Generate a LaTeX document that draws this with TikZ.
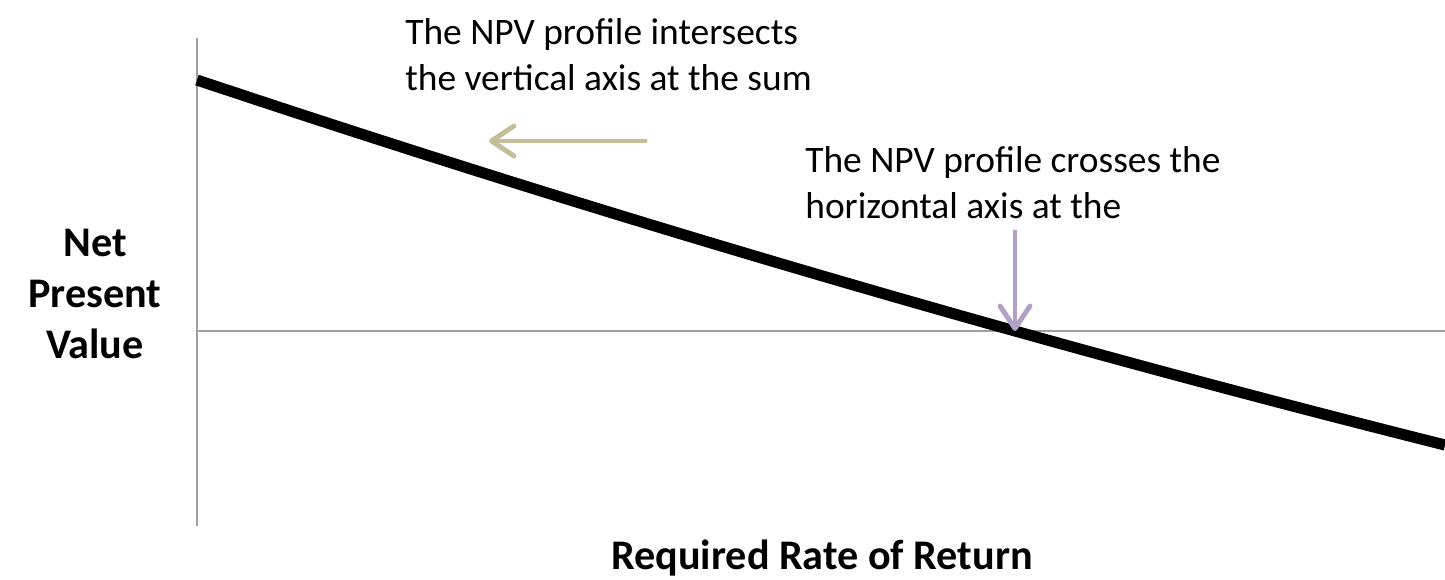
\documentclass[tikz,border=0pt]{standalone}
\usepackage{fontspec}
\setmainfont{Carlito}
\usetikzlibrary{arrows.meta}
\definecolor{tan}{RGB}{196,189,151}
\definecolor{lilac}{RGB}{178,161,199}
\definecolor{axisgray}{RGB}{160,160,160}

\begin{document}
\begin{tikzpicture}[x=0.02cm, y=-0.02cm,
    axisline/.style={axisgray, line width=1.1pt},
    axislabel/.style={inner sep=0, align=center, font=\fontsize{24}{29}\selectfont\bfseries},
    note/.style={anchor=north west, inner sep=0, align=left, font=\fontsize{21.3}{26}\selectfont},
    pointer/.style={-{Straight Barb[length=0.45cm, width=0.6cm, round]}, line width=2.8pt}]

    \useasboundingbox (0,0) rectangle (1445,579);

    % axes
    \coordinate (origin) at (197,331);
    \coordinate (ytop) at (197,38);
    \coordinate (ybot) at (197,526);
    \coordinate (xend) at (1445,331);
    \draw[axisline] (ytop) -- (ybot);
    \draw[axisline] (origin) -- (xend);

    % npv profile, bends up slightly as the rate grows
    \coordinate (start) at (197,80);
    \coordinate (irr) at (1015,331);
    \coordinate (stop) at (1445,445);
    \draw[black, line width=6.3pt] (start) .. controls (613,219) and (1029,340.7) .. (stop);

    % axis names
    \node[axislabel] (yname) at (95,294) {Net\\Present\\Value};
    \node[axislabel, anchor=base] (xname) at (822,569) {Required Rate of Return};

    % notes
    \node[note] (sumnote) at (405,18) {The NPV profile intersects\\the vertical axis at the sum};
    \node[note] (irrnote) at (805,146) {The NPV profile crosses the\\horizontal axis at the};

    % pointers
    \coordinate (tantail) at (647,141);
    \coordinate (tanhead) at (489,141);
    \draw[pointer, tan] (tantail) -- (tanhead);
    \coordinate (liltail) at (1015,230);
    \draw[pointer, lilac] (liltail) -- (irr);

\end{tikzpicture}
\end{document}
